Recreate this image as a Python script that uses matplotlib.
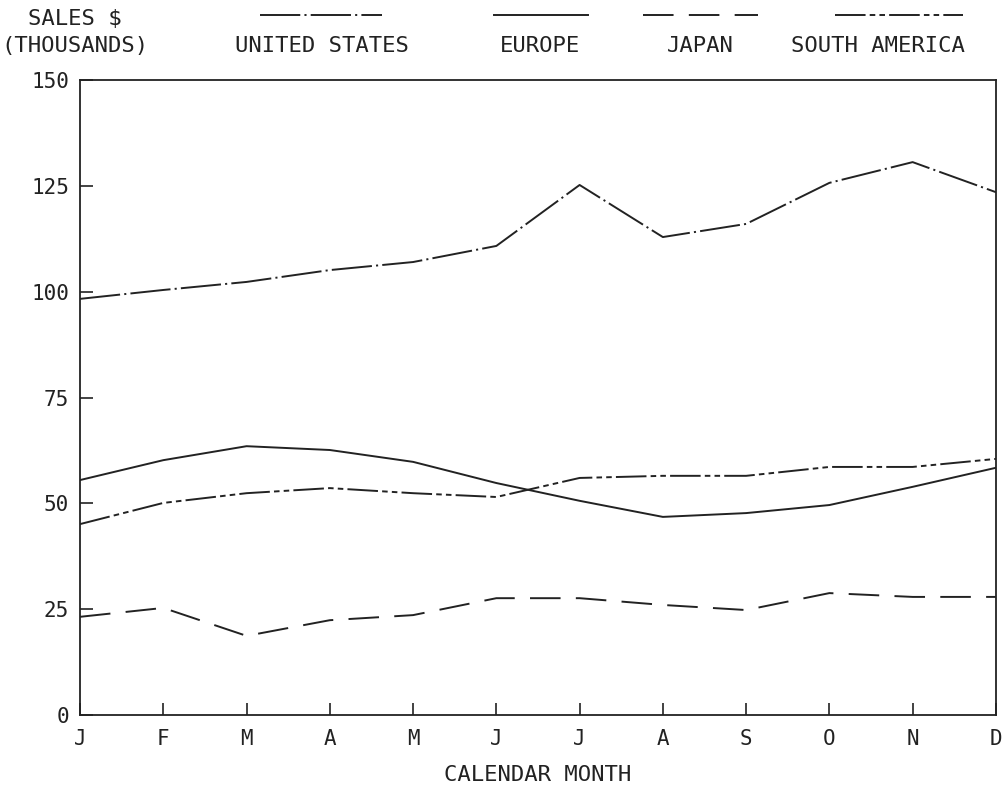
import numpy as np
import matplotlib
matplotlib.use('Agg')
import matplotlib.pyplot as plt
from matplotlib.lines import Line2D

plt.rcParams['font.family'] = ['DejaVu Sans Mono']
plt.rcParams['lines.scale_dashes'] = False

months = ['J', 'F', 'M', 'A', 'M', 'J', 'J', 'A', 'S', 'O', 'N', 'D']
united_states = [98.3, 100.4, 102.3, 105.1, 107.0, 110.8, 125.2, 112.9, 116.0, 125.7, 130.6, 123.5]
europe = [55.5, 60.2, 63.5, 62.6, 59.8, 54.8, 50.6, 46.8, 47.7, 49.6, 53.9, 58.4]
japan = [23.2, 25.3, 18.7, 22.4, 23.6, 27.6, 27.6, 26.0, 24.8, 28.8, 27.9, 27.9]
south_america = [45.1, 50.1, 52.4, 53.6, 52.4, 51.5, 56.0, 56.5, 56.5, 58.6, 58.6, 60.5]
yticks = [0, 25, 50, 75, 100, 125, 150]

series = ['UNITED STATES', 'EUROPE', 'JAPAN', 'SOUTH AMERICA']
styles = {
    'UNITED STATES': (0, (29, 3, 1.5, 3)),
    'EUROPE': '-',
    'JAPAN': (0, (22, 11)),
    'SOUTH AMERICA': (0, (22, 3, 4, 3, 4, 3)),
}
data = {'UNITED STATES': united_states, 'EUROPE': europe,
        'JAPAN': japan, 'SOUTH AMERICA': south_america}
ink = '#222222'

fig = plt.figure(figsize=(10.08, 7.88), dpi=100)
ax = fig.add_axes([0.0794, 0.0926, 0.9086, 0.8059])

x = np.arange(len(months))
for name in series:
    ax.plot(x, data[name], color=ink, lw=1.4, linestyle=styles[name])

ax.set_xlim(0, 11)
ax.set_ylim(0, 150)
ax.set_xticks(x)
ax.set_xticklabels(months)
ax.set_yticks(yticks)
ax.tick_params(direction='in', length=9, width=1.2, labelsize=15, colors=ink)
ax.tick_params(axis='x', pad=10)
ax.tick_params(axis='y', pad=8)
for s in ax.spines.values():
    s.set_linewidth(1.3)
    s.set_color(ink)

# axis title placed in figure coords so it doesn't get cut
fig.text(538 / 1008, 1 - 775 / 788, 'CALENDAR MONTH', fontsize=16, color=ink,
         ha='center', va='center')

# header / legend
fig.text(75 / 1008, 1 - 19 / 788, 'SALES $', fontsize=16, color=ink, ha='center', va='center')
fig.text(75 / 1008, 1 - 46 / 788, '(THOUSANDS)', fontsize=16, color=ink, ha='center', va='center')

leg_lines = {'UNITED STATES': (260, 382, 322), 'EUROPE': (494, 588, 540),
             'JAPAN': (643, 758, 700), 'SOUTH AMERICA': (835, 963, 878)}
for name in series:
    x0, x1, xc = leg_lines[name]
    fig.add_artist(Line2D([x0 / 1008, x1 / 1008], [1 - 15 / 788, 1 - 15 / 788],
                          color=ink, lw=1.4, linestyle=styles[name]))
    fig.text(xc / 1008, 1 - 46 / 788, name, fontsize=16, color=ink,
             ha='center', va='center')

fig.savefig('out.png', dpi=100, facecolor='white')
